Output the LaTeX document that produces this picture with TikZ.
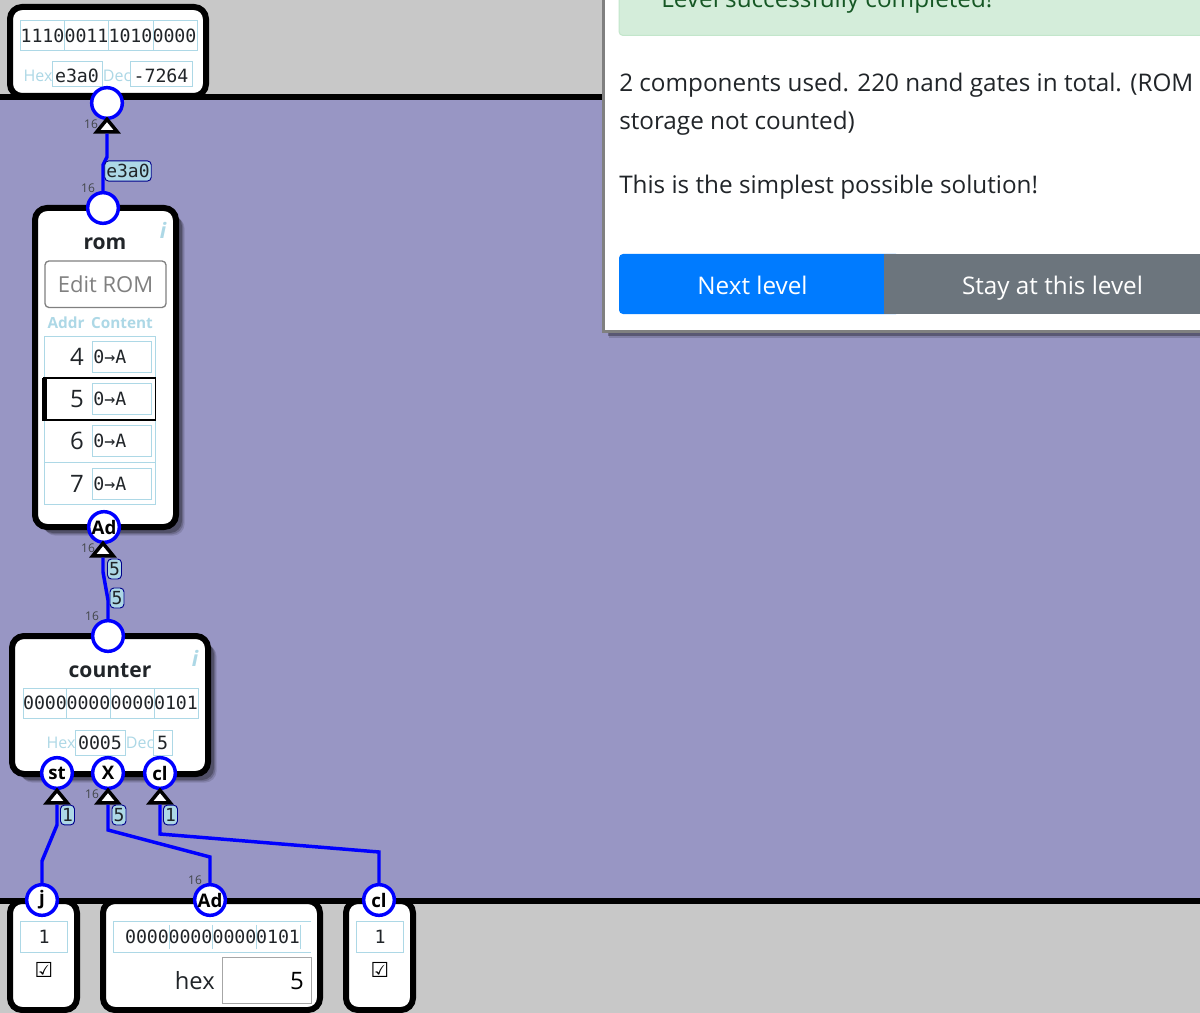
\documentclass[tikz,border=0pt]{standalone}
\usepackage{fontspec}
\setmainfont{Open Sans}
\newfontfamily\wiremono{DejaVu Sans Mono}
\newfontfamily\checkfont{DejaVu Sans}
\usetikzlibrary{fit, shapes.geometric, shadows}
\newcommand{\fsz}[1]{\fontsize{#1}{#1}\selectfont}
\definecolor{boardcol}{HTML}{9896C4}
\definecolor{palecol}{HTML}{C8C8C8}
\definecolor{skycol}{HTML}{ADD8E6}
\definecolor{okfill}{HTML}{D4EDDA}
\definecolor{okline}{HTML}{C3E6CB}
\definecolor{oktext}{HTML}{155724}
\definecolor{nextcol}{HTML}{007BFF}
\definecolor{staycol}{HTML}{6C757D}
\definecolor{inkcol}{HTML}{212529}

\begin{document}
\begin{tikzpicture}
                [x=0.75pt, y=-0.75pt,
                bsty/.style={draw=black, fill=white, line width=4.5pt, rounded corners=9pt, inner sep=0pt},
                ssty/.style={drop shadow={shadow xshift=6.5pt, shadow yshift=-6.5pt, opacity=0.12, fill=black},
                             drop shadow={shadow xshift=5.5pt, shadow yshift=-5.5pt, opacity=0.18, fill=black},
                             drop shadow={shadow xshift=4.5pt, shadow yshift=-4.5pt, opacity=0.25, fill=black}},
                fsty/.style={draw=skycol, line width=0.75pt, inner sep=0pt},
                msty/.style={inner sep=0pt, text=inkcol, font=\wiremono\fsz{13.7pt}},
                hsty/.style={inner sep=0pt, text=skycol, font=\fsz{12pt}},
                tsty/.style={inner sep=0pt, text=inkcol, font=\bfseries\fsz{15.8pt}},
                isty/.style={inner sep=0pt, text=skycol, font=\bfseries\itshape\fsz{16pt}},
                psty/.style={circle, draw=blue, fill=white, line width=2.6pt, inner sep=0pt, minimum size=23pt, font=\bfseries\fsz{14pt}},
                trsty/.style={isosceles triangle, isosceles triangle stretches, shape border rotate=90, draw=black, fill=white, line width=2.6pt, inner sep=0pt, minimum width=15.5pt, minimum height=9.5pt},
                wsty/.style={draw=blue, line width=2.6pt},
                lsty/.style={draw={rgb,255:red,0;green,0;blue,139}, fill=skycol, rounded corners=3pt, line width=0.7pt, inner xsep=1.2pt, inner ysep=2.5pt, text=inkcol, font=\wiremono\fsz{13.5pt}},
                nsty/.style={inner sep=0pt, text=inkcol!85, font=\fsz{9pt}},
                xsty/.style={inner sep=0pt, text=inkcol, font=\fsz{18.2pt}, anchor=base west}]
                \clip[use as bounding box] (0,0) rectangle (1200,1013);
                % board
                \fill[palecol] (0,0) rectangle (1200,1013);
                \fill[boardcol] (0,97) rectangle (1200,901);
                % output box
                \node[bsty, fit={(10,7) (206,96)}] (outbox) {};
                \fill[black] (0,94) rectangle (1200,100);
                \node[fsty, fit={(20.5,21) (197,51)}] (outbits) {};
                \foreach \x/\k/\b in {42.5/a/1110,86.5/b/0011,130.5/c/1010,174.5/d/0000}
                    \node[msty] (outn\k) at (\x,36) {\b};
                \foreach \x in {64.5,108.5,153}
                    \draw[skycol, line width=0.75pt] (\x,21) -- (\x,51);
                \node[hsty] (outhexl) at (38,76) {Hex};
                \node[fsty, fill=white, fit={(52,62) (102.5,87)}] (outhex) {};
                \node[msty] (outhext) at (77,75.5) {e3a0};
                \node[hsty] (outdecl) at (117,76) {Dec};
                \node[fsty, fill=white, fit={(130,62) (192,87)}] (outdec) {};
                \node[msty] (outdect) at (161,75.5) {-7264};
                % rom
                \node[bsty, ssty, fit={(35,208) (176,527)}] (rom) {};
                \node[tsty] (romt) at (105,244) {rom};
                \node[isty] (romi) at (163,230) {i};
                \node[draw=gray, line width=1pt, rounded corners=3pt, inner sep=0pt, fit={(45,261) (166,307.5)}] (romedit) {};
                \node[inner sep=0pt, text=gray, font=\fsz{16.5pt}] (romeditt) at (romedit) {Edit ROM};
                \node[hsty, font=\bfseries\fsz{11.5pt}] (romaddr) at (66,323) {Addr};
                \node[hsty, font=\bfseries\fsz{11.5pt}] (romcont) at (122,323) {Content};
                \node[fsty, fit={(44,336) (155.5,504)}] (romtab) {};
                \draw[skycol, line width=0.75pt] (romtab.west |- 0,462) -- (romtab.east |- 0,462);
                \node[draw=black, line width=1pt, inner sep=0pt, fit={(44,378) (155.5,420)}] (romsel) {};
                \fill[black] (42,377.5) rectangle (46.5,420.5);
                \foreach \y/\a in {357/4,399/5,441/6,484/7} {
                    \node[inner sep=0pt, text=inkcol, font=\fsz{18pt}, anchor=east] (addr\a) at (84,\y) {\a};
                    \node[fsty, fit={(92,\y-16) (151.5,\y+15)}] (cell\a) {};
                    \node[msty, anchor=west] (cont\a) at (93,\y) {0→A};
                }
                % counter
                \node[bsty, ssty, fit={(12,636) (208,774)}] (counter) {};
                \node[tsty] (countt) at (110,671) {counter};
                \node[isty] (counti) at (195,658) {i};
                \node[fsty, fit={(23,688) (198,718)}] (countbits) {};
                \foreach \x/\k/\b in {45/a/0000,88.5/b/0000,132.5/c/0000,176/d/0101}
                    \node[msty] (countn\k) at (\x,703) {\b};
                \foreach \x in {66,110,154}
                    \draw[skycol, line width=0.75pt] (\x,688) -- (\x,718);
                \node[hsty] (counthexl) at (61,743) {Hex};
                \node[fsty, fill=white, fit={(75,730) (125.5,755)}] (counthex) {};
                \node[msty] (counthext) at (100,743) {0005};
                \node[hsty] (countdecl) at (140,743) {Dec};
                \node[fsty, fill=white, fit={(153,730) (172,755)}] (countdec) {};
                \node[msty] (countdect) at (162.5,743) {5};
                % inputs
                \node[bsty, fit={(10,901) (77,1010)}] (jbox) {};
                \node[bsty, fit={(103,901) (320,1010)}] (adbox) {};
                \node[bsty, fit={(346,901) (413,1010)}] (clbox) {};
                \fill[black] (0,898) rectangle (1200,904);
                \node[fsty, fit={(20,921) (67.5,952)}] (jbit) {};
                \node[msty] (jbitt) at (44,937) {1};
                \node[inner sep=0pt, font=\checkfont\fsz{15.5pt}] (jcheck) at (44,970) {☑};
                \draw[skycol, line width=0.75pt] (311,921) -- (113,921) -- (113,952) -- (311,952);
                \foreach \x/\k/\b in {147/a/0000,190.5/b/0000,234.5/c/0000,278/d/0101}
                    \node[msty] (adn\k) at (\x,937) {\b};
                \foreach \x in {169,212,256,300}
                    \draw[skycol, line width=0.75pt] (\x,925) -- (\x,949);
                \node[inner sep=0pt, text=inkcol, font=\fsz{17.8pt}, anchor=base east] (adhex) at (215,989) {hex};
                \node[draw=gray!70, line width=0.75pt, inner sep=0pt, fit={(222,957) (311,1003)}] (adin) {};
                \node[inner sep=0pt, text=black, font=\fsz{18pt}, anchor=base east] (adval) at (304,989) {5};
                \node[fsty, fit={(356,921) (403.5,952)}] (clbit) {};
                \node[msty] (clbitt) at (380,937) {1};
                \node[inner sep=0pt, font=\checkfont\fsz{15.5pt}] (clcheck) at (380,970) {☑};
                % pins
                \node[psty] (pout) at (107,103) {};
                \node[psty] (prom) at (103,208) {};
                \node[psty] (pad) at (104,527) {Ad};
                \node[psty] (pcount) at (108,636) {};
                \node[psty] (pst) at (57,773) {st};
                \node[psty] (px) at (108,773) {X};
                \node[psty] (pcl) at (160,773) {cl};
                \node[psty] (pj) at (42,900) {j};
                \node[psty] (padin) at (210,900) {Ad};
                \node[psty] (pclin) at (379,900) {cl};
                % arrows
                \node[trsty] (tout) at (107,127) {};
                \node[trsty] (tad) at (103,551) {};
                \node[trsty] (tst) at (57,798) {};
                \node[trsty] (tx) at (108,798) {};
                \node[trsty] (tcl) at (160,798) {};
                % vertices
                \coordinate (w1a) at (107,157);
                \coordinate (w1b) at (103,165);
                \coordinate (w2a) at (103,572);
                \coordinate (w2b) at (108,600);
                \coordinate (w3a) at (57,825);
                \coordinate (w3b) at (42,861);
                \coordinate (w4a) at (108,830);
                \coordinate (w4b) at (210,857);
                \coordinate (w5a) at (160,834);
                \coordinate (w5b) at (379,852);
                \draw[wsty] (prom) -- (w1b) -- (w1a) -- (tout.south);
                \draw[wsty] (pcount) -- (w2b) -- (w2a) -- (tad.south);
                \draw[wsty] (pj) -- (w3b) -- (w3a) -- (tst.south);
                \draw[wsty] (padin) -- (w4b) -- (w4a) -- (tx.south);
                \draw[wsty] (pclin) -- (w5b) -- (w5a) -- (tcl.south);
                % wire labels
                \node[lsty] (lrom) at (128,171) {e3a0};
                \node[lsty] (lad) at (114.5,569) {5};
                \node[lsty] (lcount) at (117,598) {5};
                \node[lsty] (lst) at (67.5,815) {1};
                \node[lsty] (lx) at (119,815) {5};
                \node[lsty] (lcl) at (170.5,815) {1};
                \node[nsty] (n1) at (91,124) {16};
                \node[nsty] (n2) at (88,188) {16};
                \node[nsty] (n3) at (88,548) {16};
                \node[nsty] (n4) at (92,616) {16};
                \node[nsty] (n5) at (92,794) {16};
                \node[nsty] (n6) at (195,880) {16};
                % dialog
                \node[draw=gray, fill=white, line width=2.25pt, inner sep=0pt,
                      drop shadow={shadow xshift=4.5pt, shadow yshift=-5pt, opacity=0.15, fill=black},
                      drop shadow={shadow xshift=3.5pt, shadow yshift=-4pt, opacity=0.3, fill=black},
                      fit={(603,-20) (1230,331)}] (dialog) {};
                \node[draw=okline, fill=okfill, line width=0.75pt, rounded corners=3pt, inner sep=0pt, fit={(619,-30) (1230,35.5)}] (okbox) {};
                \node[xsty, text=oktext] (oktxt) at (661,8) {Level successfully completed!};
                \node[xsty] (line1) at (619,92) {2 components used. 220 nand gates in total. (ROM};
                \node[xsty] (line2) at (619,130) {storage not counted)};
                \node[xsty] (line3) at (619,194) {This is the simplest possible solution!};
                \node[fill=nextcol, rounded corners=3pt, inner sep=0pt, fit={(619,254) (900,314)}] (nextbtn) {};
                \node[fill=staycol, inner sep=0pt, fit={(884,254) (1230,314)}] (staybtn) {};
                \node[inner sep=0pt, text=white, font=\fsz{18.2pt}, anchor=base] (nexttxt) at (752.5,294) {Next level};
                \node[inner sep=0pt, text=white, font=\fsz{18.2pt}, anchor=base] (staytxt) at (1052.5,294) {Stay at this level};
            \end{tikzpicture}
\end{document}
